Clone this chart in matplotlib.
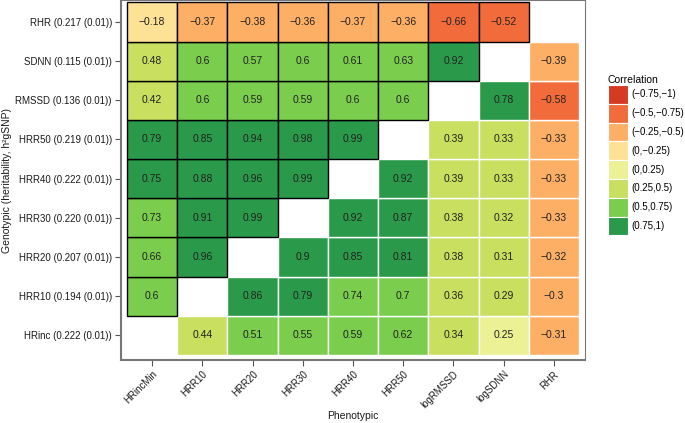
import numpy as np
import matplotlib
matplotlib.use("Agg")
import matplotlib.pyplot as plt
from matplotlib.patches import Patch

plt.rcParams["font.family"] = ["Liberation Sans", "DejaVu Sans"]

# 표현형 (x축)
phenotypes = ["HRincMin", "HRR10", "HRR20", "HRR30", "HRR40", "HRR50",
              "logRMSSD", "logSDNN", "RHR"]
# 유전형 (y축, 아래에서 위로)
genotypes = ["HRinc (0.222 (0.01))", "HRR10 (0.194 (0.01))", "HRR20 (0.207 (0.01))",
             "HRR30 (0.220 (0.01))", "HRR40 (0.222 (0.01))", "HRR50 (0.219 (0.01))",
             "RMSSD (0.136 (0.01))", "SDNN (0.115 (0.01))", "RHR (0.217 (0.01))"]

nan = np.nan
# 행 = genotypes 순서 (아래 -> 위)
row_hrinc = [nan, 0.44, 0.51, 0.55, 0.59, 0.62, 0.34, 0.248, -0.31]
row_hrr10 = [0.6, nan, 0.86, 0.79, 0.74, 0.7, 0.36, 0.29, -0.3]
row_hrr20 = [0.66, 0.96, nan, 0.9, 0.85, 0.81, 0.38, 0.31, -0.32]
row_hrr30 = [0.73, 0.91, 0.99, nan, 0.92, 0.87, 0.38, 0.32, -0.33]
row_hrr40 = [0.752, 0.88, 0.96, 0.99, nan, 0.92, 0.39, 0.33, -0.33]
row_hrr50 = [0.79, 0.85, 0.94, 0.98, 0.99, nan, 0.39, 0.33, -0.33]
row_rmssd = [0.42, 0.6, 0.59, 0.59, 0.6, 0.6, nan, 0.78, -0.58]
row_sdnn = [0.48, 0.6, 0.57, 0.6, 0.61, 0.63, 0.92, nan, -0.39]
row_rhr = [-0.18, -0.37, -0.38, -0.36, -0.37, -0.36, -0.66, -0.52, nan]

corr = np.array([row_hrinc, row_hrr10, row_hrr20, row_hrr30, row_hrr40,
                 row_hrr50, row_rmssd, row_sdnn, row_rhr])

bin_labels = ["(\u22120.75,\u22121)", "(\u22120.5,\u22120.75)", "(\u22120.25,\u22120.5)",
              "(0,\u22120.25)", "(0,0.25)", "(0.25,0.5)", "(0.5,0.75)", "(0.75,1)"]
bin_edges = [-0.75, -0.5, -0.25, 0, 0.25, 0.5, 0.75]
bin_colors = ["#d63a22", "#f26b3b", "#fdb065", "#fde296",
              "#ebf194", "#c8df60", "#7bcd4d", "#2a9a4a"]


def cell_color(v):
    idx = int(np.searchsorted(bin_edges, v, side="left"))
    return bin_colors[idx]


def fmt(v):
    s = f"{round(v, 2):g}"
    return s.replace("-", "\u2212")


fig = plt.figure(figsize=(6.85, 4.23), dpi=100)
ax = fig.add_axes([121 / 685, 1 - 360 / 423, 464 / 685, 360 / 423])

n = len(phenotypes)
for i in range(n):
    for j in range(n):
        v = corr[i, j]
        if np.isnan(v):
            continue
        genotypic = j < i
        ax.bar(j, 1, width=1, bottom=i - 0.5, color=cell_color(v),
               edgecolor="black" if genotypic else "white",
               linewidth=1.0, zorder=3 if genotypic else 2)
        ax.text(j, i, fmt(v), ha="center", va="center", fontsize=7.5,
                color="#222222", zorder=4)

ax.set_xlim(-0.62, n - 0.38)
ax.set_ylim(-0.63, n - 0.44)
ax.set_xticks(range(n))
ax.set_xticklabels(phenotypes, rotation=45, ha="right", va="top",
                   rotation_mode="anchor")
ax.set_yticks(range(n))
ax.set_yticklabels(genotypes)
ax.tick_params(axis="both", labelsize=7, colors="#555555", labelcolor="#1a1a1a",
               length=4, width=0.8, pad=2.5)

for side in ["left", "bottom", "right", "top"]:
    ax.spines[side].set_color("#777777")
    ax.spines[side].set_linewidth(0.8)
ax.spines["left"].set_linewidth(1.5)
ax.spines["bottom"].set_linewidth(1.5)

ax.set_xlabel("Phenotypic", fontsize=7.5, color="#1a1a1a")
ax.xaxis.set_label_coords(0.5, (360 - 411) / 360)
ax.set_ylabel("Genotypic (heritability, h\u00b2gSNP)", fontsize=7.5,
              color="#1a1a1a")
ax.yaxis.set_label_coords((12 - 121) / 464, 0.5)

# 범례
handles = [Patch(facecolor=c, edgecolor="white", linewidth=0.8) for c in bin_colors]
leg = fig.legend(handles, bin_labels, loc="upper left",
                 bbox_to_anchor=(608 / 685, 1 - 75 / 423), frameon=False,
                 fontsize=7, title="Correlation", title_fontsize=7.5,
                 handlelength=2.05, handleheight=2.6, labelspacing=0.0,
                 handletextpad=0.35, borderpad=0.0, borderaxespad=0.0)
leg._legend_box.align = "left"

plt.savefig("out.png", dpi=100)
plt.close(fig)
